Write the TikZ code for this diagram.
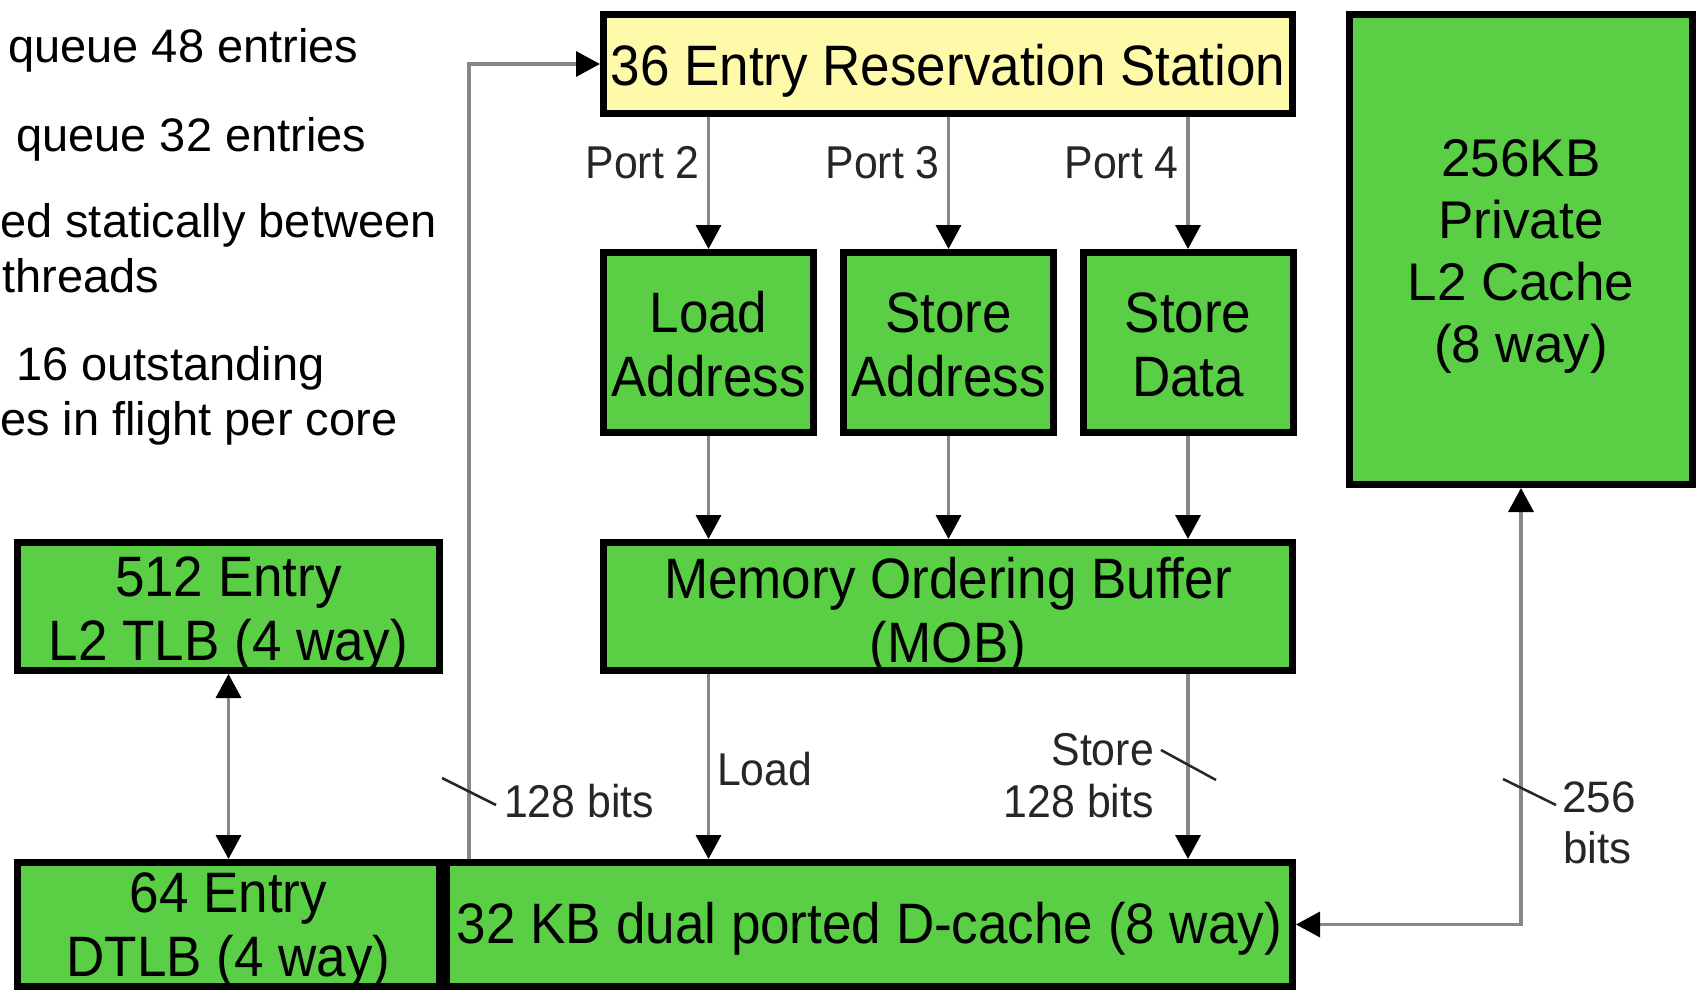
\documentclass[tikz,border=0pt]{standalone}
\usepackage{fontspec}
\setmainfont{Liberation Sans}
\newfontfamily\condensed[FakeStretch=0.93]{Liberation Sans}
\usetikzlibrary{arrows.meta}
\definecolor{unitgreen}{RGB}{90,206,68}
\definecolor{rsyellow}{RGB}{255,250,170}
\definecolor{wiregray}{RGB}{135,135,135}
\begin{document}
\begin{tikzpicture}[x=1pt,y=-1pt,
  unit/.style={draw=black, line width=7pt, fill=unitgreen, inner sep=0pt},
  utext/.style={font=\condensed\fontsize{57}{64}\selectfont, align=center, text=black, inner sep=0pt},
  ctext/.style={font=\fontsize{53}{62}\selectfont, align=center, text=black, inner sep=0pt},
  wire/.style={draw=wiregray, line width=3.5pt, -{Triangle[length=24pt,width=25pt,color=black]}},
  wiretwo/.style={draw=wiregray, line width=3.5pt, {Triangle[length=24pt,width=25pt,color=black]}-{Triangle[length=24pt,width=25pt,color=black]}},
  buswidth/.style={draw=black!85, line width=2.5pt},
  lbl/.style={font=\condensed\fontsize{46}{50}\selectfont, text=black!85, inner sep=0pt},
  wlbl/.style={font=\fontsize{44}{51}\selectfont, text=black!85, inner sep=0pt, align=left},
  note/.style={font=\fontsize{47}{56}\selectfont, text=black, inner sep=0pt, anchor=base west}
]
\useasboundingbox (0,0) rectangle (1698,990);
\fill[white] (0,0) rectangle (1698,990);

% notes on the left
\node[note] (n1) at (8,63) {queue 48 entries};
\node[note] (n2) at (16,151) {queue 32 entries};
\node[note] (n3) at (0,237) {ed statically between};
\node[note] (n4) at (2,292) {threads};
\node[note] (n5) at (16,380) {16 outstanding};
\node[note] (n6) at (0,435) {es in flight per core};

% reservation station
\node[unit, fill=rsyellow, minimum width=689pt, minimum height=99pt,
  label={[utext, yshift=-7pt, name=rs-text]center:{36 Entry Reservation Station}}] (rs) at (948,64) {};

% address / data units
\node[unit, minimum width=210pt, minimum height=180pt,
  label={[utext, yshift=-2pt, name=la-text]center:{Load\\Address}}] (la) at (708.5,342.5) {};
\node[unit, minimum width=210pt, minimum height=180pt,
  label={[utext, yshift=-2pt, name=sa-text]center:{Store\\Address}}] (sa) at (948.5,342.5) {};
\node[unit, minimum width=210pt, minimum height=180pt,
  label={[utext, yshift=-2pt, name=sd-text]center:{Store\\Data}}] (sd) at (1188,342.5) {};

% memory ordering buffer
\node[unit, minimum width=689pt, minimum height=128pt,
  label={[utext, yshift=-9pt, name=mob-text]center:{Memory Ordering Buffer\\(MOB)}}] (mob) at (948,606.5) {};

% TLBs
\node[unit, minimum width=422pt, minimum height=128pt,
  label={[utext, yshift=-8pt, name=l2tlb-text]center:{512 Entry\\L2 TLB (4 way)}}] (l2tlb) at (228.5,606.5) {};
\node[unit, minimum width=422pt, minimum height=124pt,
  label={[utext, yshift=-6pt, name=dtlb-text]center:{64 Entry\\DTLB (4 way)}}] (dtlb) at (228.5,924.5) {};

% L1 data cache
\node[unit, minimum width=846pt, minimum height=124pt,
  label={[utext, yshift=-4pt, name=dc-text]center:{32 KB dual ported D-cache (8 way)}}] (dc) at (869.5,924.5) {};

% L2 cache
\node[unit, minimum width=343pt, minimum height=470pt,
  label={[ctext, yshift=-7pt, name=l2c-text]center:{256KB\\Private\\L2 Cache\\(8 way)}}] (l2c) at (1521,249.5) {};

% ports
\draw[wire] (la.north |- rs.south) -- (la.north);
\draw[wire] (sa.north |- rs.south) -- (sa.north);
\draw[wire] (sd.north |- rs.south) -- (sd.north);
\node[lbl, anchor=base east] (p2) at (700,178) {Port 2};
\node[lbl, anchor=base east] (p3) at (940,178) {Port 3};
\node[lbl, anchor=base east] (p4) at (1179,178) {Port 4};

% units into the MOB
\draw[wire] (la.south) -- (la.south |- mob.north);
\draw[wire] (sa.south) -- (sa.south |- mob.north);
\draw[wire] (sd.south) -- (sd.south |- mob.north);

% MOB to D-cache
\draw[wire] (la.south |- mob.south) -- (la.south |- dc.north);
\draw[wire] (sd.south |- mob.south) -- (sd.south |- dc.north);
\node[lbl, anchor=base west] (ld) at (717,785) {Load};
\node[lbl, anchor=base east] (st) at (1154,765) {Store};
\node[lbl, anchor=base east] (st128) at (1154,817) {128 bits};
\draw[buswidth] (1161,750) -- (1216,780);

% D-cache back to the reservation station
\draw[wire] ([xshift=26pt]dc.north west) |- (rs.west);
\draw[buswidth] (442,778) -- (496,805);
\node[lbl, anchor=base west] (ld128) at (504,817) {128 bits};

% TLB link
\draw[wiretwo] (l2tlb.south) -- (dtlb.north);

% L2 link
\draw[wiretwo] (dc.east) -| (l2c.south);
\draw[buswidth] (1503,779) -- (1556,805);
\node[wlbl, anchor=base west] (b256) at (1562,812) {256};
\node[wlbl, anchor=base west] (bbits) at (1563,863) {bits};
\end{tikzpicture}
\end{document}
